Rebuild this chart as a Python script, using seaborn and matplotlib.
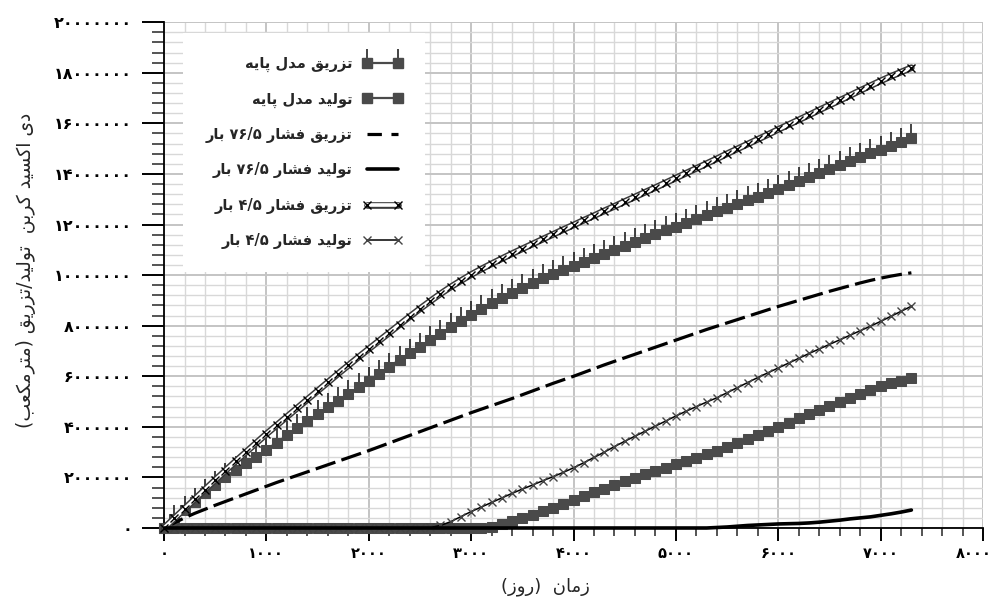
import re
import numpy as np
import pandas as pd
import matplotlib
matplotlib.use("Agg")
import matplotlib.pyplot as plt
from matplotlib.lines import Line2D
from matplotlib.path import Path
from matplotlib.legend_handler import HandlerTuple
from matplotlib.ticker import MultipleLocator, FixedLocator
from matplotlib.font_manager import FontProperties
from matplotlib.transforms import ScaledTranslation
import seaborn as sns

# ---------------- data (values in million m3) ----------------
DAYS = list(range(0, 7301, 100))

INJ_45 = [0, 0.38, 0.76, 1.14, 1.52, 1.9, 2.27, 2.64, 3.0, 3.36,
          3.72, 4.06, 4.4, 4.74, 5.08, 5.42, 5.76, 6.1, 6.43, 6.76,
          7.08, 7.4, 7.72, 8.04, 8.36, 8.67, 8.97, 9.26, 9.53, 9.78,
          10.02, 10.24, 10.45, 10.65, 10.85, 11.04, 11.23, 11.42, 11.61, 11.8,
          11.98, 12.17, 12.35, 12.54, 12.72, 12.91, 13.09, 13.28, 13.46, 13.65,
          13.84, 14.03, 14.22, 14.41, 14.6, 14.8, 14.99, 15.18, 15.37, 15.56,
          15.76, 15.95, 16.14, 16.33, 16.53, 16.72, 16.91, 17.1, 17.3, 17.49,
          17.68, 17.86, 18.03, 18.2]

INJ_BASE = [0, 0.35, 0.7, 1.04, 1.37, 1.7, 2.0, 2.3, 2.58, 2.82,
            3.1, 3.38, 3.66, 3.94, 4.22, 4.5, 4.77, 5.04, 5.3, 5.56,
            5.82, 6.1, 6.38, 6.65, 6.91, 7.17, 7.44, 7.68, 7.93, 8.18,
            8.42, 8.66, 8.89, 9.1, 9.3, 9.5, 9.69, 9.87, 10.04, 10.2,
            10.36, 10.52, 10.68, 10.84, 11.0, 11.16, 11.32, 11.47, 11.62, 11.77,
            11.92, 12.07, 12.22, 12.37, 12.52, 12.67, 12.82, 12.96, 13.1, 13.25,
            13.4, 13.56, 13.72, 13.88, 14.04, 14.2, 14.36, 14.51, 14.66, 14.81,
            14.96, 15.12, 15.27, 15.43]

INJ_765 = [0, 0.2, 0.4, 0.58, 0.74, 0.9, 1.05, 1.2, 1.35, 1.5,
           1.65, 1.8, 1.94, 2.08, 2.22, 2.36, 2.5, 2.64, 2.78, 2.92,
           3.06, 3.21, 3.36, 3.51, 3.66, 3.81, 3.96, 4.11, 4.26, 4.41,
           4.56, 4.7, 4.84, 4.98, 5.12, 5.27, 5.42, 5.57, 5.72, 5.86,
           6.0, 6.15, 6.3, 6.45, 6.59, 6.73, 6.87, 7.01, 7.15, 7.29,
           7.43, 7.57, 7.71, 7.85, 7.98, 8.11, 8.24, 8.37, 8.5, 8.63,
           8.76, 8.88, 9.0, 9.12, 9.24, 9.36, 9.47, 9.58, 9.69, 9.79,
           9.88, 9.96, 10.03, 10.09]

PROD_765 = [0, 0, 0, 0, 0, 0, 0, 0, 0, 0,
            0, 0, 0, 0, 0, 0, 0, 0, 0, 0,
            0, 0, 0, 0, 0, 0, 0, 0, 0, 0,
            0, 0, 0, 0, 0, 0, 0, 0, 0, 0,
            0, 0, 0, 0, 0, 0, 0, 0, 0, 0,
            0, 0, 0, 0, 0.02, 0.04, 0.07, 0.1, 0.12, 0.14,
            0.16, 0.17, 0.18, 0.2, 0.23, 0.27, 0.31, 0.36, 0.4, 0.44,
            0.5, 0.56, 0.63, 0.71]

PROD_45 = [0, 0, 0, 0, 0, 0, 0, 0, 0, 0,
           0, 0, 0, 0, 0, 0, 0, 0, 0, 0,
           0, 0, 0, 0, 0, 0, 0.02, 0.1, 0.25, 0.45,
           0.65, 0.83, 1.01, 1.19, 1.37, 1.54, 1.7, 1.87, 2.03, 2.2,
           2.38, 2.58, 2.79, 3.0, 3.22, 3.43, 3.63, 3.83, 4.03, 4.23,
           4.43, 4.62, 4.8, 4.98, 5.15, 5.35, 5.55, 5.75, 5.95, 6.14,
           6.33, 6.52, 6.71, 6.9, 7.08, 7.26, 7.44, 7.62, 7.8, 7.98,
           8.17, 8.37, 8.57, 8.77]

PROD_BASE = [0, 0, 0, 0, 0, 0, 0, 0, 0, 0,
             0, 0, 0, 0, 0, 0, 0, 0, 0, 0,
             0, 0, 0, 0, 0, 0, 0, 0, 0, 0,
             0, 0, 0.04, 0.15, 0.29, 0.41, 0.53, 0.66, 0.81, 0.96,
             1.12, 1.26, 1.41, 1.56, 1.71, 1.85, 1.98, 2.12, 2.25, 2.38,
             2.52, 2.65, 2.78, 2.91, 3.04, 3.19, 3.35, 3.51, 3.67, 3.84,
             4.01, 4.17, 4.33, 4.49, 4.65, 4.81, 4.97, 5.13, 5.29, 5.45,
             5.6, 5.72, 5.83, 5.93]

SERIES_LABELS = ["تزریق مدل پایه", "تولید مدل پایه",
                 "تزریق فشار ۷۶/۵ بار", "تولید فشار ۷۶/۵ بار",
                 "تزریق فشار ۴/۵ بار", "تولید فشار ۴/۵ بار"]
X_LABEL = "زمان  (روز)"
Y_LABEL = "دی اکسید کربن  تولید/تزریق (مترمکعب)"

X_TICKS = [0, 1000, 2000, 3000, 4000, 5000, 6000, 7000, 8000]
X_TICK_LABELS = ["۰", "۱۰۰۰", "۲۰۰۰", "۳۰۰۰", "۴۰۰۰", "۵۰۰۰", "۶۰۰۰", "۷۰۰۰", "۸۰۰۰"]
Y_TICKS = [0, 2e6, 4e6, 6e6, 8e6, 10e6, 12e6, 14e6, 16e6, 18e6, 20e6]
Y_TICK_LABELS = ["۰", "۲۰۰۰۰۰۰", "۴۰۰۰۰۰۰", "۶۰۰۰۰۰۰", "۸۰۰۰۰۰۰", "۱۰۰۰۰۰۰۰",
                 "۱۲۰۰۰۰۰۰", "۱۴۰۰۰۰۰۰", "۱۶۰۰۰۰۰۰", "۱۸۰۰۰۰۰۰", "۲۰۰۰۰۰۰۰"]

# ---------------- minimal Persian shaping + RTL ordering ----------------
FORMS = {
    '\u0627': ('\uFE8D', '\uFE8E', None, None),
    '\u0628': ('\uFE8F', '\uFE90', '\uFE91', '\uFE92'),
    '\u062A': ('\uFE95', '\uFE96', '\uFE97', '\uFE98'),
    '\u062F': ('\uFEA9', '\uFEAA', None, None),
    '\u0631': ('\uFEAD', '\uFEAE', None, None),
    '\u0632': ('\uFEAF', '\uFEB0', None, None),
    '\u0633': ('\uFEB1', '\uFEB2', '\uFEB3', '\uFEB4'),
    '\u0634': ('\uFEB5', '\uFEB6', '\uFEB7', '\uFEB8'),
    '\u0639': ('\uFEC9', '\uFECA', '\uFECB', '\uFECC'),
    '\u0641': ('\uFED1', '\uFED2', '\uFED3', '\uFED4'),
    '\u0642': ('\uFED5', '\uFED6', '\uFED7', '\uFED8'),
    '\u0644': ('\uFEDD', '\uFEDE', '\uFEDF', '\uFEE0'),
    '\u0645': ('\uFEE1', '\uFEE2', '\uFEE3', '\uFEE4'),
    '\u0646': ('\uFEE5', '\uFEE6', '\uFEE7', '\uFEE8'),
    '\u0647': ('\uFEE9', '\uFEEA', '\uFEEB', '\uFEEC'),
    '\u0648': ('\uFEED', '\uFEEE', None, None),
    '\u067E': ('\uFB56', '\uFB57', '\uFB58', '\uFB59'),
    '\u06A9': ('\uFB8E', '\uFB8F', '\uFB90', '\uFB91'),
    '\u06CC': ('\uFBFC', '\uFBFD', '\uFBFE', '\uFBFF'),
}


def shape(s):
    out = []
    for i, c in enumerate(s):
        if c not in FORMS:
            out.append(c)
            continue
        f = FORMS[c]
        prev = s[i - 1] if i > 0 else ''
        nxt = s[i + 1] if i + 1 < len(s) else ''
        jp = prev in FORMS and FORMS[prev][2] is not None
        jn = f[2] is not None and nxt in FORMS
        if jp and jn:
            out.append(f[3])
        elif jp:
            out.append(f[1])
        elif jn:
            out.append(f[2])
        else:
            out.append(f[0])
    return ''.join(out)


MIRROR = str.maketrans('()', ')(')
NUM_RE = r'([۰-۹0-9]+(?:[/.][۰-۹0-9]+)*)'


def rtl(s):
    parts = re.split(NUM_RE, shape(s))
    vis = []
    for p in parts:
        if re.fullmatch(NUM_RE, p):
            vis.append(p)
        else:
            vis.append(p[::-1].translate(MIRROR))
    return ''.join(reversed(vis))


# ---------------- plotting ----------------
sns.set_theme(style="white")
plt.rcParams['font.family'] = ['DejaVu Sans']

df = pd.DataFrame({
    "day": DAYS,
    "inj_base": np.array(INJ_BASE) * 1e6,
    "prod_base": np.array(PROD_BASE) * 1e6,
    "inj_765": np.array(INJ_765) * 1e6,
    "prod_765": np.array(PROD_765) * 1e6,
    "inj_45": np.array(INJ_45) * 1e6,
    "prod_45": np.array(PROD_45) * 1e6,
})

fig = plt.figure(figsize=(9.96, 6.0), dpi=100)
ax = fig.add_axes([0.1647, 0.12, 0.8223, 0.843])

GRAY = '#4a4a4a'
DASH = (0, (6.5, 2.0))
TICK_MARKER = Path([(0, 0), (0, 1)], [Path.MOVETO, Path.LINETO])
common = dict(ax=ax, estimator=None, errorbar=None, sort=False, legend=False)

# base injection: upward tick marks + squares
sns.lineplot(data=df, x="day", y="inj_base", color='#111111', linestyle='none',
             marker=TICK_MARKER, markersize=20, markeredgewidth=1.1,
             markeredgecolor='#111111', zorder=3, clip_on=False, **common)
sns.lineplot(data=df, x="day", y="inj_base", color=GRAY, linewidth=1.6,
             marker='s', markersize=6.5, markeredgecolor=GRAY, markerfacecolor=GRAY,
             zorder=4, clip_on=False, **common)
# base production
sns.lineplot(data=df, x="day", y="prod_base", color=GRAY, linewidth=1.6,
             marker='s', markersize=6.5, markeredgecolor=GRAY, markerfacecolor=GRAY,
             zorder=4, clip_on=False, **common)
# 76.5 bar injection (dashed)
sns.lineplot(data=df, x="day", y="inj_765", color='black', linewidth=2.3,
             linestyle=DASH, zorder=5, clip_on=False, **common)
# 4.5 bar injection (double line with x)
sns.lineplot(data=df, x="day", y="inj_45", color='#3a3a3a', linewidth=4.8,
             zorder=5, clip_on=False, **common)
sns.lineplot(data=df, x="day", y="inj_45", color='white', linewidth=2.6,
             zorder=5.1, clip_on=False, **common)
sns.lineplot(data=df, x="day", y="inj_45", color='black', linestyle='none',
             marker='x', markersize=6, markeredgewidth=1.0, markeredgecolor='black',
             zorder=5.2, clip_on=False, **common)
# 4.5 bar production
sns.lineplot(data=df, x="day", y="prod_45", color='black', linewidth=1.1,
             marker='x', markersize=6, markeredgewidth=1.0, markeredgecolor='#444444',
             zorder=5, clip_on=False, **common)
# 76.5 bar production (solid thick)
sns.lineplot(data=df, x="day", y="prod_765", color='black', linewidth=2.6,
             zorder=6, clip_on=False, **common)

# axes, ticks, grid
ax.set_xlim(0, 8000)
ax.set_ylim(0, 20e6)
ax.xaxis.set_major_locator(FixedLocator(X_TICKS))
ax.set_xticklabels(X_TICK_LABELS)
ax.yaxis.set_major_locator(FixedLocator(Y_TICKS))
ax.set_yticklabels(Y_TICK_LABELS)
ax.xaxis.set_minor_locator(MultipleLocator(200))
ax.yaxis.set_minor_locator(MultipleLocator(400000))
ax.set_axisbelow(True)
ax.grid(which='major', color='#c4c4c4', linewidth=1.4)
ax.grid(which='minor', color='#d8d8d8', linewidth=1.0)

ax.tick_params(axis='x', which='major', direction='out', length=9, width=1.4,
               pad=4, labelsize=10.5, colors='black', bottom=True)
ax.tick_params(axis='x', which='minor', direction='out', length=6, width=1.1, bottom=True)
ax.tick_params(axis='y', which='major', direction='out', length=16, width=1.4,
               pad=7, labelsize=11.5, colors='black', left=True)
ax.tick_params(axis='y', which='minor', direction='out', length=9, width=1.1, left=True)
for lbl in ax.get_xticklabels() + ax.get_yticklabels():
    lbl.set_fontweight('bold')
# keep the last x tick label inside the canvas
last = ax.get_xticklabels()[-1]
last.set_transform(last.get_transform() + ScaledTranslation(-9 / 100, 0, fig.dpi_scale_trans))

for side in ('top', 'right'):
    ax.spines[side].set_visible(False)
for side in ('left', 'bottom'):
    ax.spines[side].set_color('black')
    ax.spines[side].set_linewidth(1.3)

ax.set_xlabel(rtl(X_LABEL), fontsize=13)
ax.set_ylabel(rtl(Y_LABEL), fontsize=13.5)
ax.xaxis.set_label_coords(0.466, -0.097)
ax.yaxis.set_label_coords(-0.156, 0.51)

# legend
h_inj_base = (Line2D([], [], ls='none', marker=TICK_MARKER, ms=20, mec='#111111', mew=1.1),
              Line2D([], [], color=GRAY, lw=1.6, marker='s', ms=6.5, mec=GRAY, mfc=GRAY))
h_prod_base = Line2D([], [], color=GRAY, lw=1.6, marker='s', ms=6.5, mec=GRAY, mfc=GRAY)
h_inj_765 = Line2D([], [], color='black', lw=2.3, ls=(0, (4.5, 3.0)))
h_prod_765 = Line2D([], [], color='black', lw=2.6)
h_inj_45 = (Line2D([], [], color='#3a3a3a', lw=4.8),
            Line2D([], [], color='white', lw=2.6),
            Line2D([], [], ls='none', marker='x', ms=6, mew=1.0, mec='black'))
h_prod_45 = Line2D([], [], color='black', lw=1.1, marker='x', ms=6, mew=1.0, mec='#444444')

leg = ax.legend([h_inj_base, h_prod_base, h_inj_765, h_prod_765, h_inj_45, h_prod_45],
                [rtl(s) for s in SERIES_LABELS],
                loc='upper left', bbox_to_anchor=(0.0232, 0.978), borderaxespad=0,
                markerfirst=False, frameon=True, fancybox=False, edgecolor='none',
                facecolor='white', framealpha=1.0,
                prop=FontProperties(family='DejaVu Sans', weight='bold', size=10.5),
                handlelength=2.7, handletextpad=0.7, labelspacing=1.33, borderpad=1.55,
                numpoints=2, handler_map={tuple: HandlerTuple(ndivide=1, pad=0)})
leg.set_zorder(10)

fig.savefig("out.png", dpi=100, facecolor='white')
